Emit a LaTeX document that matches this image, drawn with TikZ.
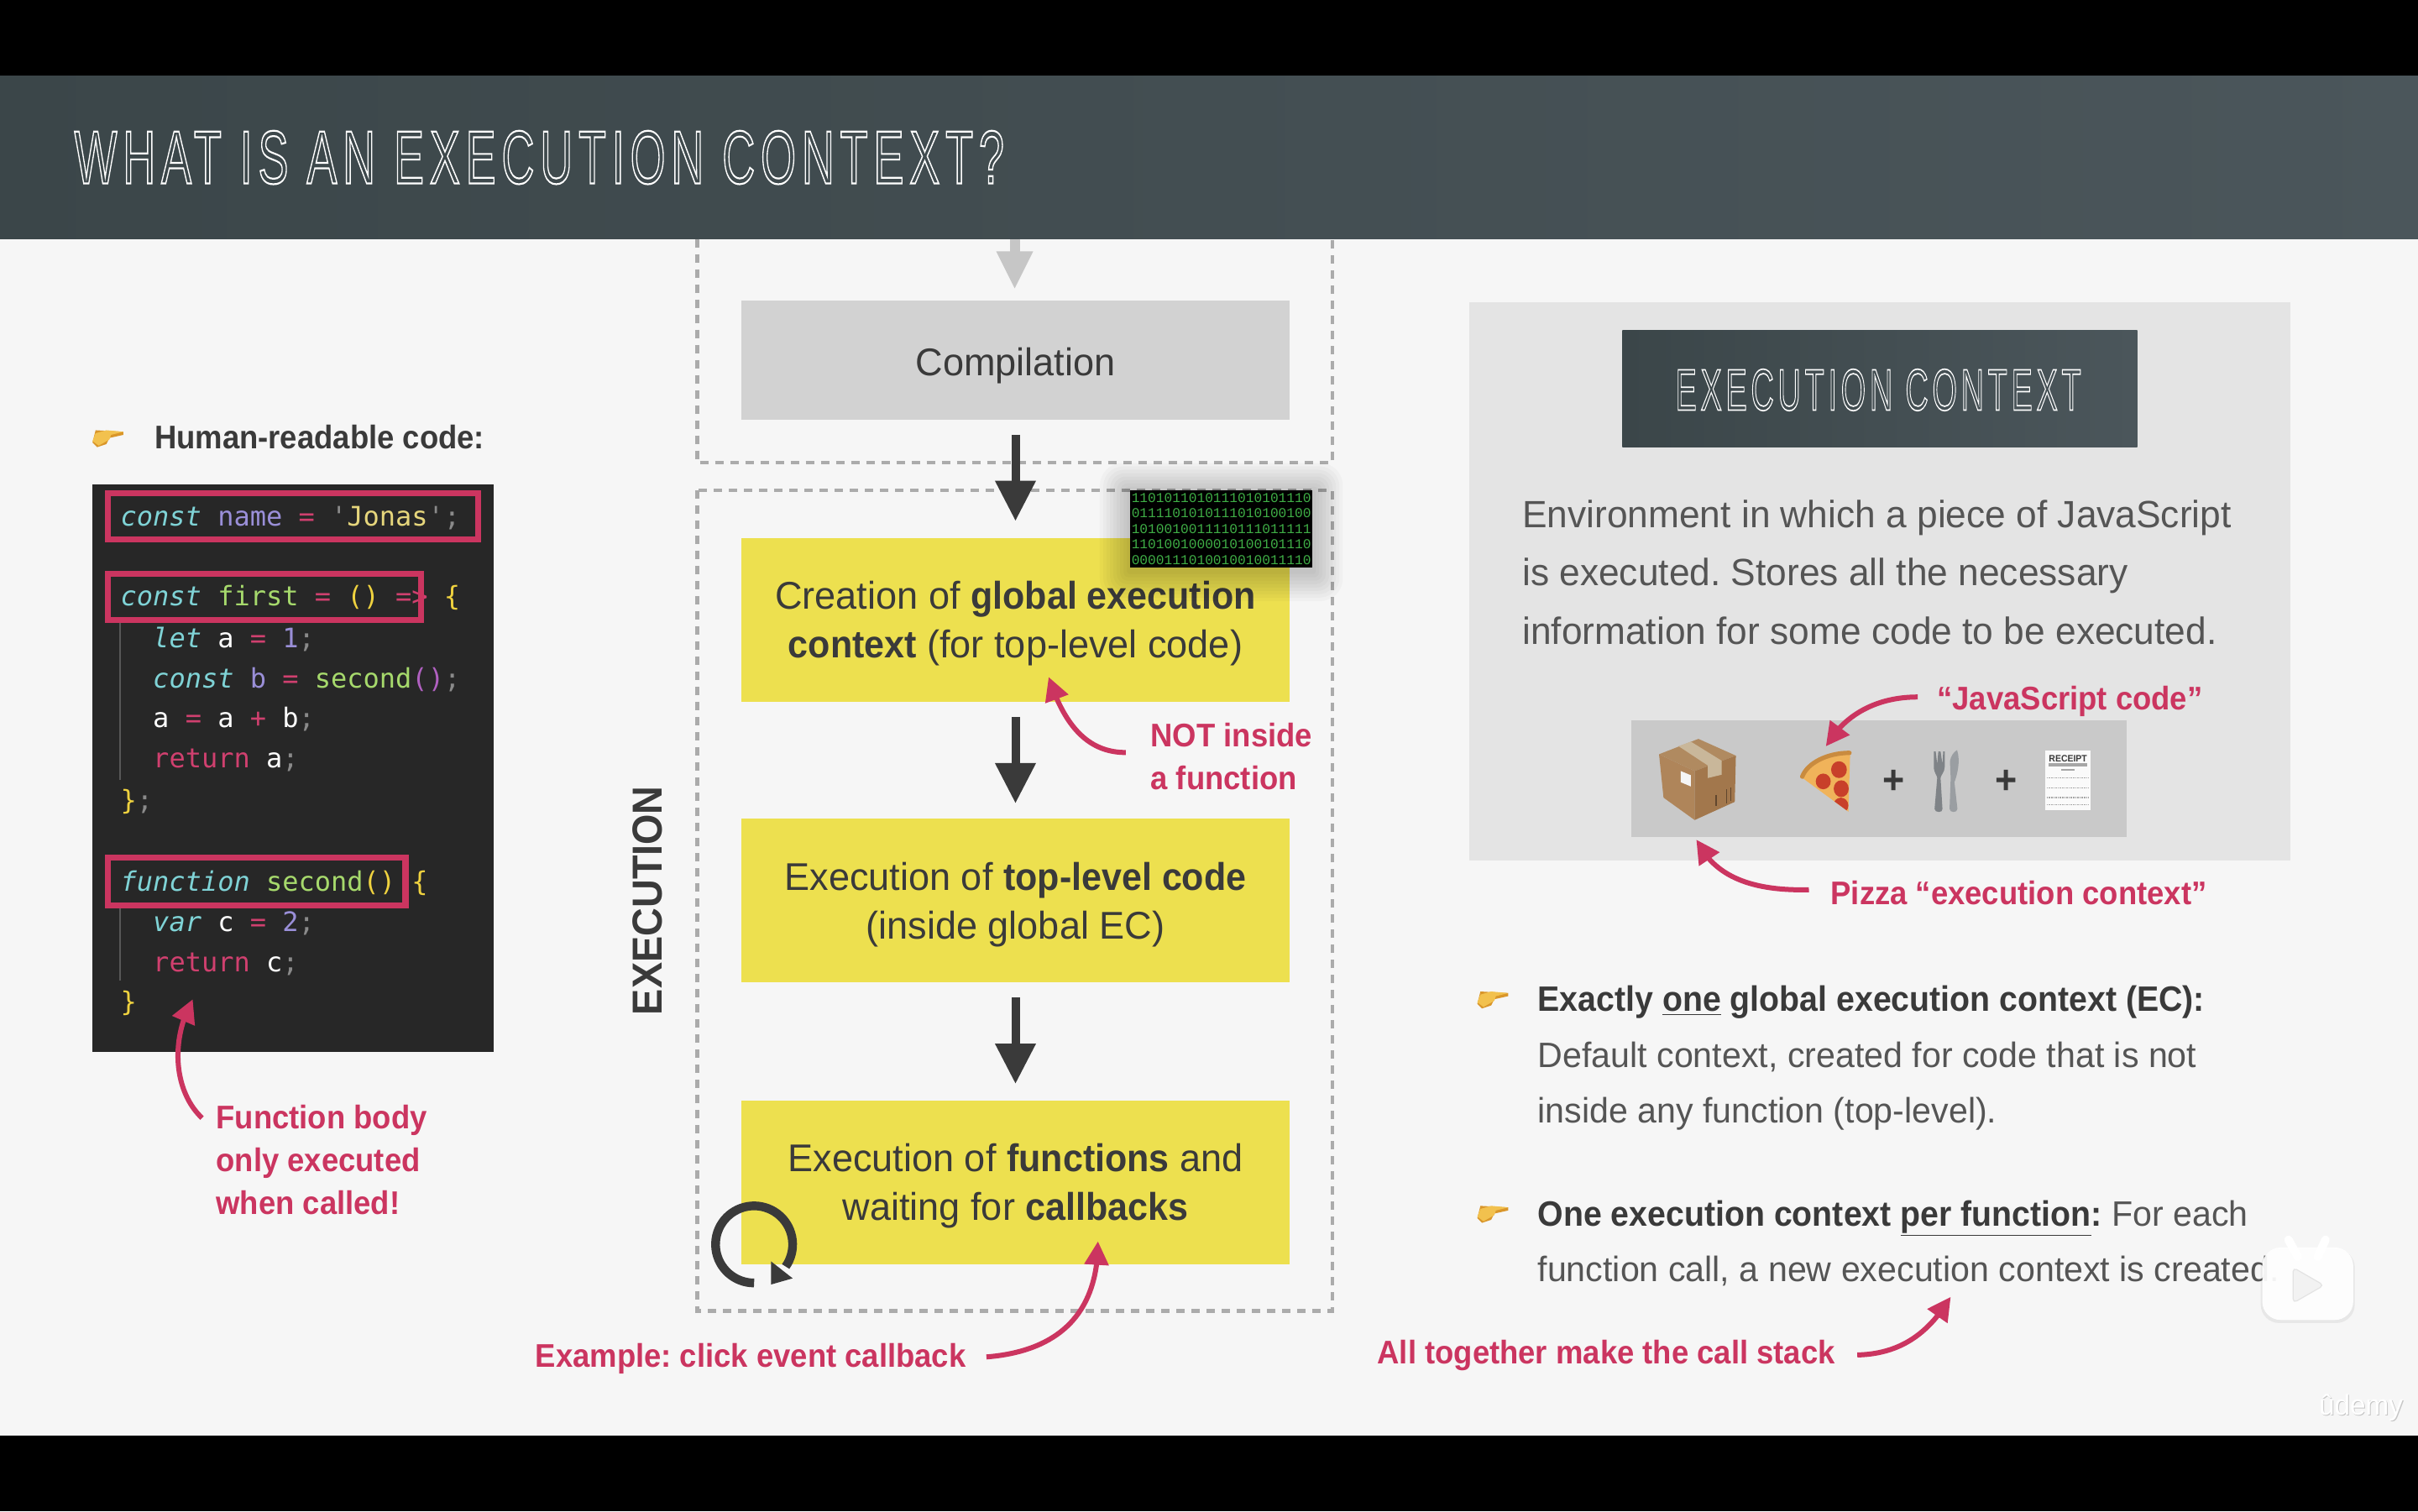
\documentclass[tikz,border=0pt]{standalone}
\usepackage{fontspec}
\usetikzlibrary{arrows.meta,bending,shapes.geometric}
\setmainfont[FakeStretch=0.98,BoldFeatures={FakeStretch=0.935}]{Liberation Sans}
\newfontfamily\codefont{DejaVu Sans Mono}
\newfontfamily\binfont{Liberation Mono}
\newfontfamily\ttlfont[LetterSpace=12.6]{Liberation Sans}
\AtBeginDocument{\frenchspacing}
\definecolor{pagebg}{HTML}{F6F6F6}
\definecolor{accent}{HTML}{CB3560}
\definecolor{inkdark}{HTML}{3A3A3A}
\definecolor{inkgray}{HTML}{555555}
\definecolor{slateA}{HTML}{3B4649}
\definecolor{slateB}{HTML}{4B565B}
\definecolor{ybox}{HTML}{EDE04F}
\definecolor{gbox}{HTML}{D2D2D2}
\definecolor{panel}{HTML}{E4E4E4}
\definecolor{band}{HTML}{C9C9C9}
\definecolor{dashc}{HTML}{ABABAB}
\definecolor{codebg}{HTML}{272727}
\definecolor{cKw}{HTML}{7FD3D6}
\definecolor{cVar}{HTML}{9A8FD8}
\definecolor{cOp}{HTML}{D0406F}
\definecolor{cStr}{HTML}{E6D67C}
\definecolor{cSem}{HTML}{8A8A8A}
\definecolor{cFn}{HTML}{A6D96C}
\definecolor{cBr}{HTML}{EFD23F}
\definecolor{cPu}{HTML}{B060C0}
\definecolor{binGreen}{HTML}{3FAE46}
\definecolor{boxTop}{HTML}{B08A60}
\definecolor{boxLeft}{HTML}{AF855A}
\definecolor{boxRight}{HTML}{A2774C}
\definecolor{boxTape}{HTML}{C9B79A}
\definecolor{pizCheese}{HTML}{F0B35A}
\definecolor{pizCrust}{HTML}{C98B3F}
\definecolor{pizPep}{HTML}{C8402A}
\definecolor{forkC}{HTML}{7F8387}
\definecolor{knifeC}{HTML}{9A9EA2}
\definecolor{HandLight}{HTML}{F2C14E}
\definecolor{HandDark}{HTML}{D9962A}
\newcommand{\ck}[1]{\textcolor{cKw}{\itshape #1}}
\newcommand{\cv}[1]{\textcolor{cVar}{#1}}
\newcommand{\co}[1]{\textcolor{cOp}{#1}}
\newcommand{\cs}[1]{\textcolor{cStr}{#1}}
\newcommand{\ce}[1]{\textcolor{cSem}{#1}}
\newcommand{\cf}[1]{\textcolor{cFn}{#1}}
\newcommand{\cb}[1]{\textcolor{cBr}{#1}}
\newcommand{\cw}[1]{\textcolor{white}{#1}}
\newcommand{\cp}[1]{\textcolor{cPu}{#1}}
\newcommand{\inlinetitle}[3]{\scalebox{#1}[1]{\special{pdf:code 1 Tr #2 w}\ttlfont #3\special{pdf:code 0 Tr}}}
\tikzset{
  x=0.91837pt,y=-0.91837pt,
  codeline/.style={anchor=base west,inner sep=0pt,font=\codefont\fontsize{16}{16}\selectfont},
  redbox/.style={draw=accent,line width=3.6pt,fill=none},
  dashbox/.style={draw=dashc,line width=2.3pt,dash pattern=on 5pt off 4pt},
  stepbox/.style={fill=ybox,minimum width=326pt,minimum height=97.3pt,inner sep=0pt},
  steptext/.style={inner sep=0pt,align=center,text=inkdark,font=\fontsize{23}{29}\selectfont},
  redtext/.style={text=accent,font=\bfseries\fontsize{19.5}{25.5}\selectfont,anchor=west,inner sep=0pt,align=left},
  redarrow/.style={draw=accent,line width=3pt,-{Triangle[length=14pt,width=14pt,flex]}},
  bigarrow/.style={draw=inkdark,line width=5pt,-{Triangle[length=24pt,width=23pt]}},
  graytext/.style={text=inkgray,anchor=base west,inner sep=0pt,font=\fontsize{22.6}{22.6}\selectfont},
  bullettext/.style={anchor=base west,inner sep=0pt,text=inkdark,font=\fontsize{21}{21}\selectfont},
  handicon/.pic={
    \fill[HandDark] (2,-5) -- (20,-4) -- (20,-2) -- (11,0) -- (9,4) -- (3,6) -- (0,3) -- cycle;
    \fill[HandLight] (2,-3) -- (9,-5) -- (20,-4) -- (12,-2) -- (11,1) -- (4,5) -- (0,2) -- cycle;
  }
}
\begin{document}
\begin{tikzpicture}
\useasboundingbox (0,0) rectangle (1568,980);
% page
\fill[pagebg] (0,0) rectangle (1568,980);
\fill[black] (0,0) rectangle (1568,49);
\fill[black] (0,931) rectangle (1568,980);
\shade[left color=slateA,right color=slateB] (0,49) rectangle (1568,155);
\node[anchor=base west,inner sep=0pt,text=white,font=\fontsize{45}{45}\selectfont] (title) at (48,119)
  {\inlinetitle{.6}{1.1}{WHAT IS AN EXECUTION CONTEXT?}};

% left column
\pic at (60,284) {handicon};
\node[anchor=base west,inner sep=0pt,text=inkdark,font=\bfseries\fontsize{19.5}{19.5}\selectfont] (hrc) at (100,291) {Human-readable code:};
\fill[codebg] (60,314) rectangle (320,682);
\draw[draw=white!22!codebg,line width=.8pt] (78,404) -- (78,506) (78,589) -- (78,636);
\node[codeline] (l1) at (78,341) {\ck{const} \cv{name} \co{=} \ce{'}\cs{Jonas}\ce{'}\ce{;}};
\node[codeline] (l2) at (78,393) {\ck{const} \cf{first} \co{=} \cb{()} \co{=>} \cb{\{}};
\node[codeline] (l3) at (99,420) {\ck{let} \cw{a} \co{=} \cv{1}\ce{;}};
\node[codeline] (l4) at (99,446) {\ck{const} \cv{b} \co{=} \cf{second}\cp{()}\ce{;}};
\node[codeline] (l5) at (99,472) {\cw{a} \co{=} \cw{a} \co{+} \cw{b}\ce{;}};
\node[codeline] (l6) at (99,498) {\co{return} \cw{a}\ce{;}};
\node[codeline] (l7) at (78,525) {\cb{\}}\ce{;}};
\node[codeline] (l8) at (78,578) {\ck{function} \cf{second}\cb{()} \cb{\{}};
\node[codeline] (l9) at (99,604) {\ck{var} \cw{c} \co{=} \cv{2}\ce{;}};
\node[codeline] (l10) at (99,630) {\co{return} \cw{c}\ce{;}};
\node[codeline] (l11) at (78,656) {\cb{\}}};
\draw[redbox] (70,320) rectangle (310,350);
\draw[redbox] (70,372) rectangle (273,402);
\draw[redbox] (70,556) rectangle (263,587);
\node[redtext,anchor=north west] (fnbody) at (140,716.5) {Function body\\only executed\\when called!};
\coordinate (fnTail) at (131,725);
\coordinate (fnTip) at (125,648);
\draw[redarrow] (fnTail) .. controls (113,708) and (110,675) .. (fnTip);

% middle column
\draw[dashbox] (452,155) -- (452,300) -- (864,300) -- (864,155);
\draw[dashbox] (452,318) rectangle (864,850);
\node[stepbox,fill=gbox,minimum height=70.7pt] (comp) at (658.5,233.5) {};
\node[steptext] (compT) at ([yshift=-3.5pt]comp.center) {Compilation};
\node[stepbox] (s1) at (658.5,402) {};
\node[steptext] (s1T) at ([yshift=-2pt]s1.center) {Creation of \textbf{global execution}\\\textbf{context} (for top-level code)};
\node[stepbox] (s2) at (658.5,584) {};
\node[steptext] (s2T) at ([yshift=-2.4pt]s2.center) {Execution of \textbf{top-level code}\\(inside global EC)};
\node[stepbox] (s3) at (658.5,767) {};
\node[steptext] (s3T) at ([yshift=-2pt]s3.center) {Execution of \textbf{functions} and\\waiting for \textbf{callbacks}};
\coordinate (topIn) at (658,155);
\draw[draw=gray!45,line width=6pt] (topIn) -- (658,170);
\fill[gray!45!white] (646,163) -- (670,163) -- (658,187) -- cycle;
\draw[bigarrow,shorten <=9pt,shorten >=10pt] (comp.south) -- (s1.north);
\draw[bigarrow,shorten <=9pt,shorten >=9pt] (s1.south) -- (s2.north);
\draw[bigarrow,shorten <=9pt,shorten >=10pt] (s2.south) -- (s3.north);
\node[rotate=90,inner sep=0pt,text=inkdark,font=\bfseries\fontsize{25}{25}\selectfont] (exec) at (420,584) {EXECUTION};
% binary
\foreach \i in {1,...,9}{\fill[black,opacity=.025,rounded corners=\i*1.5pt] (733-\i*2.2,318-\i*2.2+2) rectangle (851+\i*2.2,368+\i*2.2+2);}
\node[fill=black,minimum width=108.4pt,minimum height=45.9pt,inner sep=0pt,align=center,text=binGreen,
   font=\binfont\fontsize{8.1}{9.2}\selectfont] (bin) at (792,343)
  {1101011010111010101110\\0111101010111010100100\\1010010011110111011111\\1101001000010100101110\\0000111010010010011110};
% loop
\draw[inkdark,line width=5.2pt] plot[domain=90:395,samples=60] ({489+25*cos(\x)},{807+25*sin(\x)});
\fill[inkdark] (500,818) -- (514,829) -- (500,833) -- cycle;
% red notes middle
\node[redtext] (notin) at (746,490.5) {NOT inside\\a function};
\coordinate (notTail) at (730,488);
\coordinate (notTip) at (680,439);
\draw[redarrow] (notTail) .. controls (705,488) and (690,470) .. (notTip);
\node[redtext] (clickev) at (347,881) {Example: click event callback};
\coordinate (clkTip) at (712,805);
\draw[redarrow,shorten <=12pt] (clickev.east) .. controls (690,876) and (712,850) .. (clkTip);

% right column
\fill[panel] (953,196) rectangle (1485,558);
\shade[left color=slateA,right color=slateB] (1052,214) rectangle (1386,290);
\node[anchor=base,inner sep=0pt,text=white,font=\fontsize{35}{35}\selectfont] (ectitle) at (1218,266)
  {\inlinetitle{.54}{0.85}{EXECUTION CONTEXT}};
\node[graytext] (env1) at (987,342) {Environment in which a piece of JavaScript};
\node[graytext] (env2) at (987,380) {is executed. Stores all the necessary};
\node[graytext] (env3) at (987,418) {information for some code to be executed.};
\fill[band] (1058,467) rectangle (1379,543);
\begin{scope}[shift={(1034.5,435.6)},x=0.22325pt,y=-0.16667pt]
  % parcel
  \fill[boxTop] (275,240) -- (375,300) -- (265,355) -- (170,295) -- cycle;
  \fill[boxLeft] (170,295) -- (265,355) -- (265,530) -- (182,450) -- cycle;
  \fill[boxRight] (375,300) -- (372,465) -- (265,530) -- (265,355) -- cycle;
  \fill[boxTape] (222,266) -- (255,250) -- (337,318) -- (337,368) -- (300,380) -- (300,335) -- cycle;
  \fill[white!92!gray] (228,355) -- (255,370) -- (255,410) -- (228,395) -- cycle;
  \draw[boxRight!60!black,line width=.7pt] (350,420) -- (350,470) (362,415) -- (362,462) (322,440) -- (322,480);
  % pizza
  \fill[pizCheese] (680,285) .. controls (620,285) and (560,320) .. (548,375) -- (675,500) -- cycle;
  \draw[pizCrust,line width=2.6pt,line cap=round] (678,290) .. controls (620,290) and (566,325) .. (552,375);
  \fill[pizPep] (650,350) ellipse [x radius=21, y radius=30];
  \fill[pizPep] (608,392) ellipse [x radius=20, y radius=28];
  \fill[pizPep] (656,418) ellipse [x radius=20, y radius=30];
  \begin{scope}
    \clip (548,375) -- (680,285) -- (680,500) -- (675,500) -- cycle;
    \fill[pizPep] (655,478) ellipse [x radius=20, y radius=28];
  \end{scope}
  % cutlery
  \fill[forkC] (903,285) -- (903,345) .. controls (905,365) and (912,370) .. (912,380) -- (905,490) .. controls (905,505) and (928,505) .. (926,490) -- (921,380) .. controls (921,370) and (932,360) .. (932,340) -- (932,285) -- (928,285) -- (926,330) -- (921,285) -- (915,285) -- (912,330) -- (908,285) -- cycle;
  \fill[knifeC] (965,280) .. controls (975,320) and (965,370) .. (958,395) -- (966,490) .. controls (966,505) and (945,505) .. (945,490) -- (948,380) -- (946,320) .. controls (948,300) and (958,285) .. (965,280) -- cycle;
  % receipt
  \fill[white!96!gray] (1200,283) rectangle (1322,495);
  \node[inner sep=0pt,text=inkdark,font=\bfseries\fontsize{5.6}{5.6}\selectfont] (rcpt) at (1261,312) {RECEIPT};
  \fill[gray!70] (1210,328) rectangle (1312,340);
  \fill[gray!70] (1243,347) rectangle (1278,353);
  \foreach \yy in {380,415,450,476}{\draw[gray!70,line width=.7pt,dash pattern=on .8pt off .5pt] (1204,\yy) -- (1316,\yy);}
\end{scope}
\node[inner sep=0pt,text=inkdark,font=\bfseries\fontsize{24}{24}\selectfont] (plusA) at (1228,507) {+};
\node[inner sep=0pt,text=inkdark,font=\bfseries\fontsize{24}{24}\selectfont] (plusB) at (1301,507) {+};
\node[redtext] (jsc) at (1256,455) {“JavaScript code”};
\coordinate (jsTip) at (1184,484);
\draw[redarrow] (1243.6,452) .. controls (1215,452) and (1195,465) .. (jsTip);
\node[redtext] (pec) at (1187,579) {Pizza “execution context”};
\coordinate (pecTip) at (1100,544.5);
\draw[redarrow] (1173,577) .. controls (1130,578) and (1110,565) .. (pecTip);

\pic at (958,648) {handicon};
\node[bullettext] (b1) at (997,656) {\textbf{Exactly \underline{one} global execution context (EC):}};
\node[graytext,font=\fontsize{21}{21}\selectfont] (b1a) at (997,692) {Default context, created for code that is not};
\node[graytext,font=\fontsize{21}{21}\selectfont] (b1b) at (997,728) {inside any function (top-level).};
\pic at (958,787) {handicon};
\node[bullettext] (b2) at (997,795) {\textbf{One execution context \underline{per function}:} \textcolor{inkgray}{For each}};
\node[graytext,font=\fontsize{21}{21}\selectfont] (b2a) at (997,831) {function call, a new execution context is created.};
\node[redtext] (stack) at (893,879) {All together make the call stack};
\coordinate (stackTip) at (1265,841);
\draw[redarrow,shorten <=13pt] (stack.east) .. controls (1235,878) and (1250,865) .. (stackTip);

% overlay play icon
\fill[black,opacity=.06,rounded corners=11pt] (1466,810) rectangle (1527,858);
\draw[white,line width=5pt,line cap=round] (1490,815) -- (1484,804);
\draw[white,line width=5pt,line cap=round] (1503,815) -- (1508,804);
\fill[white,opacity=.93,rounded corners=11pt] (1467,809) rectangle (1526,856);
\fill[rounded corners=2.5pt,fill=gray!10,draw=gray!22,line width=.6pt] (1487,822) -- (1507,833.5) -- (1487,845) -- cycle;
% watermark
\node[inner sep=0pt,text=gray!45,font=\fontsize{17}{17}\selectfont] (udemyS) at (1531.6,913.6) {ûdemy};
\node[inner sep=0pt,text=white,font=\fontsize{17}{17}\selectfont] (udemy) at (1531,913) {ûdemy};
\end{tikzpicture}
\end{document}
